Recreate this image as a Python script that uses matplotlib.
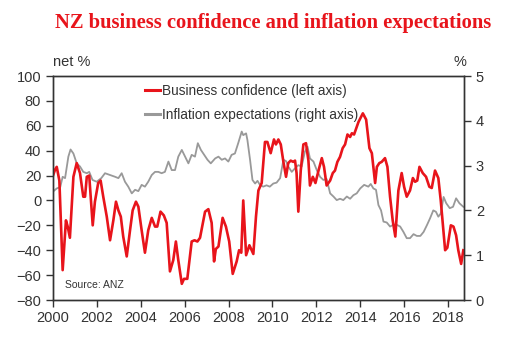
import matplotlib
matplotlib.use("Agg")
import matplotlib.pyplot as plt
from matplotlib.lines import Line2D

# business confidence (net %, left axis)
bc_year = [2000.00, 2000.10, 2000.17, 2000.29, 2000.44, 2000.59, 2000.67, 2000.77, 2000.93, 2001.08,
           2001.23, 2001.38, 2001.46, 2001.54, 2001.65, 2001.81, 2001.91, 2002.06, 2002.17, 2002.29,
           2002.45, 2002.60, 2002.75, 2002.87, 2002.98, 2003.09, 2003.20, 2003.36, 2003.51, 2003.63,
           2003.78, 2003.89, 2004.04, 2004.19, 2004.34, 2004.50, 2004.65, 2004.75, 2004.90, 2005.05,
           2005.18, 2005.33, 2005.48, 2005.60, 2005.71, 2005.87, 2005.97, 2006.12, 2006.32, 2006.45,
           2006.58, 2006.70, 2006.93, 2007.08, 2007.23, 2007.34, 2007.42, 2007.54, 2007.73, 2007.88,
           2008.03, 2008.19, 2008.37, 2008.48, 2008.58, 2008.67, 2008.80, 2008.95, 2009.13, 2009.25,
           2009.36, 2009.51, 2009.66, 2009.77, 2009.92, 2010.07, 2010.16, 2010.27, 2010.38, 2010.50,
           2010.62, 2010.72, 2010.83, 2010.95, 2011.03, 2011.10, 2011.18, 2011.29, 2011.41, 2011.53,
           2011.64, 2011.71, 2011.84, 2011.96, 2012.10, 2012.25, 2012.35, 2012.47, 2012.63, 2012.75,
           2012.85, 2012.96, 2013.08, 2013.20, 2013.31, 2013.42, 2013.54, 2013.62, 2013.72, 2013.92,
           2014.12, 2014.27, 2014.42, 2014.53, 2014.68, 2014.76, 2014.87, 2014.98, 2015.13, 2015.24,
           2015.36, 2015.48, 2015.60, 2015.74, 2015.89, 2016.00, 2016.12, 2016.27, 2016.40, 2016.50,
           2016.60, 2016.70, 2016.85, 2017.00, 2017.15, 2017.26, 2017.41, 2017.56, 2017.67, 2017.87,
           2017.97, 2018.13, 2018.25, 2018.37, 2018.47, 2018.60, 2018.70]
bc_value = [20, 25, 27, 16, -56, -16, -21, -30, 19, 30,
            22, 3, 3, 19, 20, -20, -1, 14, 16, 3,
            -13, -32, -16, -1, -8, -13, -29, -45, -24, -8,
            -1, -5, -24, -42, -24, -14, -21, -21, -9, -12,
            -18, -57, -48, -33, -48, -67, -63, -63, -33, -32,
            -33, -30, -9, -7, -18, -49, -39, -37, -14, -21,
            -33, -59, -49, -40, -42, 0, -44, -36, -43, -13,
            8, 14, 47, 47, 38, 49, 45, 49, 45, 31,
            19, 30, 32, 31, 32, 22, -9, 24, 45, 46,
            32, 12, 19, 14, 24, 34, 27, 12, 16, 22,
            24, 31, 35, 42, 45, 53, 51, 54, 53, 63,
            70, 65, 42, 38, 14, 27, 30, 31, 34, 27,
            3, -16, -29, 8, 22, 11, 3, 8, 18, 15,
            16, 27, 22, 19, 11, 10, 24, 18, 0, -40,
            -38, -20, -21, -28, -40, -51, -40]

# inflation expectations (%, right axis)
ie_year = [2000.00, 2000.17, 2000.33, 2000.44, 2000.55, 2000.70, 2000.80, 2000.93, 2001.08, 2001.23,
           2001.38, 2001.54, 2001.65, 2001.80, 2001.99, 2002.20, 2002.37, 2002.60, 2002.83, 2002.98,
           2003.13, 2003.28, 2003.43, 2003.59, 2003.74, 2003.89, 2004.04, 2004.19, 2004.34, 2004.50,
           2004.65, 2004.80, 2004.95, 2005.10, 2005.26, 2005.41, 2005.56, 2005.71, 2005.87, 2006.02,
           2006.17, 2006.32, 2006.47, 2006.60, 2006.74, 2006.89, 2007.04, 2007.19, 2007.39, 2007.54,
           2007.69, 2007.84, 2007.99, 2008.14, 2008.29, 2008.44, 2008.60, 2008.67, 2008.80, 2008.86,
           2008.98, 2009.09, 2009.21, 2009.32, 2009.43, 2009.58, 2009.73, 2009.88, 2010.04, 2010.19,
           2010.35, 2010.50, 2010.62, 2010.72, 2010.88, 2011.03, 2011.18, 2011.33, 2011.48, 2011.60,
           2011.71, 2011.87, 2012.02, 2012.17, 2012.32, 2012.47, 2012.63, 2012.78, 2012.93, 2013.08,
           2013.23, 2013.39, 2013.54, 2013.69, 2013.84, 2014.00, 2014.18, 2014.37, 2014.48, 2014.60,
           2014.72, 2014.83, 2014.95, 2015.06, 2015.21, 2015.36, 2015.51, 2015.66, 2015.82, 2015.97,
           2016.12, 2016.27, 2016.43, 2016.58, 2016.74, 2016.89, 2017.04, 2017.18, 2017.33, 2017.45,
           2017.56, 2017.67, 2017.80, 2017.92, 2018.08, 2018.23, 2018.37, 2018.52, 2018.70]
ie_value = [2.42, 2.49, 2.52, 2.75, 2.72, 3.20, 3.36, 3.27, 3.05, 2.98,
            2.86, 2.83, 2.86, 2.68, 2.64, 2.72, 2.83, 2.79, 2.75, 2.72,
            2.83, 2.64, 2.53, 2.38, 2.46, 2.43, 2.57, 2.53, 2.64, 2.79,
            2.86, 2.86, 2.83, 2.86, 3.09, 2.90, 2.90, 3.20, 3.35, 3.20,
            3.05, 3.24, 3.20, 3.50, 3.35, 3.24, 3.13, 3.05, 3.16, 3.20,
            3.13, 3.16, 3.09, 3.24, 3.27, 3.50, 3.76, 3.68, 3.72, 3.57,
            3.13, 2.68, 2.60, 2.66, 2.57, 2.53, 2.56, 2.53, 2.60, 2.62,
            2.72, 3.13, 3.10, 2.98, 2.86, 2.94, 3.01, 2.98, 3.31, 3.42,
            3.16, 3.09, 2.90, 2.75, 2.68, 2.70, 2.38, 2.31, 2.23, 2.26,
            2.23, 2.31, 2.26, 2.34, 2.38, 2.49, 2.57, 2.53, 2.59, 2.49,
            2.46, 2.12, 2.00, 1.75, 1.73, 1.64, 1.68, 1.68, 1.64, 1.52,
            1.38, 1.38, 1.47, 1.43, 1.43, 1.52, 1.67, 1.82, 2.00, 1.97,
            1.86, 1.93, 2.30, 2.16, 2.05, 2.08, 2.27, 2.16, 2.08]

x_ticks = [2000, 2002, 2004, 2006, 2008, 2010, 2012, 2014, 2016, 2018]
left_ticks = [-80, -60, -40, -20, 0, 20, 40, 60, 80, 100]
right_ticks = [0, 1, 2, 3, 4, 5]

RED = "#e8141b"
GREY = "#999999"
DARK = "#333333"

plt.rcParams["font.family"] = ["Liberation Sans", "DejaVu Sans"]

fig = plt.figure(figsize=(5.21, 3.6), dpi=100)
ax = fig.add_axes([53 / 521, 1 - 300 / 360, (464 - 53) / 521, (300 - 76) / 360])
ax2 = ax.twinx()
ax.set_zorder(ax2.get_zorder() + 1)
ax.patch.set_visible(False)

ax2.plot(ie_year, ie_value, color=GREY, lw=1.3)
ax.plot(bc_year, bc_value, color=RED, lw=1.9)

ax.set_xlim(2000, 2018.73)
ax.set_ylim(-80, 100)
ax2.set_ylim(0, 5)
ax.set_xticks(x_ticks)
ax.set_yticks(left_ticks)
ax2.set_yticks(right_ticks)

for a in (ax, ax2):
    for s in a.spines.values():
        s.set_color(DARK)
        s.set_linewidth(1.0)
    a.tick_params(colors=DARK, labelcolor=DARK, labelsize=10.5, direction="out", length=5, width=1.0)
ax.tick_params(axis="y", right=False)
ax.tick_params(axis="x", pad=3)

fig.text(53 / 521, 1 - 62 / 360, "net %", fontsize=10.5, color=DARK, ha="left", va="center")
fig.text(466 / 521, 1 - 62 / 360, "%", fontsize=10.5, color=DARK, ha="right", va="center")
fig.text(273 / 521, 1 - 23 / 360, "NZ business confidence and inflation expectations",
         fontsize=14.8, color=RED, fontweight="bold", family="Liberation Serif",
         ha="center", va="center")
ax.text(0.028, 0.055, "Source: ANZ", transform=ax.transAxes, fontsize=7.5, color=DARK)

handles = [Line2D([], [], color=RED, lw=2.2), Line2D([], [], color=GREY, lw=2.2)]
labels = ["Business confidence (left axis)", "Inflation expectations (right axis)"]
fig.legend(handles, labels, loc="upper left", bbox_to_anchor=(145 / 521, 1 - 84 / 360),
           frameon=False, fontsize=9.8, handlelength=1.1, handletextpad=0.15,
           labelspacing=0.75, borderpad=0, borderaxespad=0, labelcolor=DARK)

fig.savefig("out.png", dpi=100)
